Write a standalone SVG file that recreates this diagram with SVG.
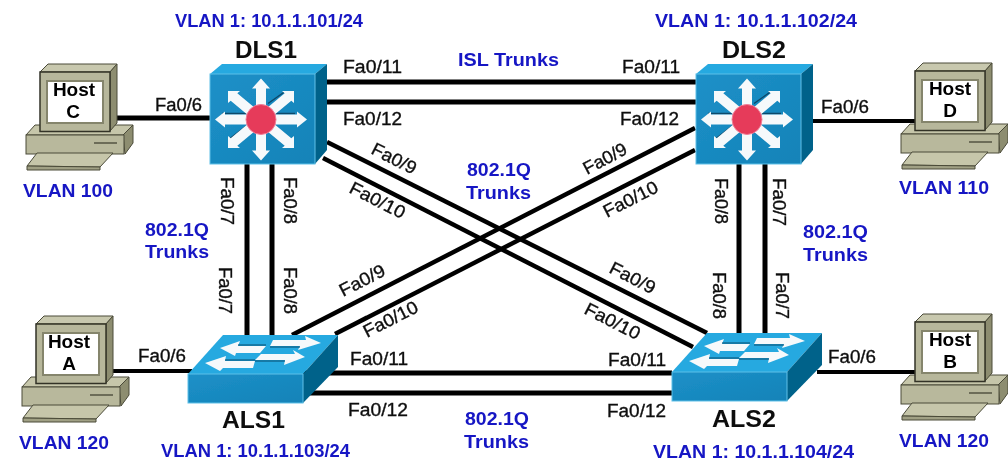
<svg xmlns="http://www.w3.org/2000/svg" width="1008" height="468" viewBox="0 0 1008 468">
<style>
text{font-family:"Liberation Sans",Arial,sans-serif}
.k{font-size:18px;fill:#111;stroke:#111;stroke-width:.35}
.b{font-size:19px;fill:#1616c4;font-weight:bold}
.n{font-size:24px;fill:#111;font-weight:bold}
.h{font-size:19px;fill:#000;font-weight:bold;text-anchor:middle}
.c line{stroke:#000;stroke-width:5;fill:none}
.c .d{stroke-width:4.5}
.c .t{stroke-width:4}
.ms{fill:#f6f9fb}
.pl{stroke:#4a4a38;stroke-width:1}
</style>
<defs>
<filter id="soft" x="0" y="0" width="100%" height="100%"><feGaussianBlur stdDeviation="0.35"/></filter>
<linearGradient id="fr" x1="0" y1="0" x2="1" y2="1"><stop offset="0" stop-color="#1c90c8"/><stop offset="1" stop-color="#1583b8"/></linearGradient>
<polygon id="diag" class="ms" points="-33,-28.5 -21,-28.5 -23.7,-26.3 3.3,-3.8 -3.3,3.8 -30.3,-18.7 -33,-16.5"/>
<polygon id="vert" class="ms" points="-5,0 -5,-31 -9,-31 0,-41 9,-31 5,-31 5,0"/>
<polygon id="horz" class="ms" points="0,-5 -36,-5 -36,-8 -46,0 -36,8 -36,5 0,5"/>
<g id="mls">
<polygon points="0,0 12,-10 117,-10 105,0" fill="#27a9e0"/>
<polygon points="105,0 117,-10 117,76 105,90" fill="#04628a"/>
<rect x="0" y="0" width="105" height="90" fill="url(#fr)" stroke="#5cc0e8" stroke-width="1"/>
<g transform="translate(51,45.5)">
<path d="M7,-16L24,-28M-31,19L-14,6M16,9L32,24M-39,-6H-14M14,-6H34" fill="none" stroke="#0b3a55" stroke-width="1.5" opacity=".8"/>
<use href="#vert"/><use href="#vert" transform="scale(1,-1)"/>
<use href="#horz"/><use href="#horz" transform="scale(-1,1)"/>
<use href="#diag"/><use href="#diag" transform="scale(-1,1)"/><use href="#diag" transform="scale(1,-1)"/><use href="#diag" transform="scale(-1,-1)"/>
<circle r="15" fill="#e63a5a" stroke="#f07f98" stroke-width="1"/>
</g>
</g>
<g id="sw">
<polygon points="0,0 35,-39 150,-39 115,0" fill="#27a9e0"/>
<polygon points="115,0 150,-39 150,-7 115,29" fill="#04628a"/>
<rect x="0" y="0" width="115" height="29" fill="url(#fr)" stroke="#5cc0e8" stroke-width="1"/>
<g class="ms">
<polygon points="85,-34 118,-34 117,-38 133,-31 110,-24 112,-28 82,-28"/>
<polygon points="73,-20 107,-20 105,-24 117,-17 96,-9 97,-14 67,-14"/>
<polygon points="32,-26 52,-33 50,-28 78,-28 72,-21 48,-21 47,-18"/>
<polygon points="17,-11 38,-18 37,-13 67,-13 65,-6 35,-6 32,-3"/>
</g>
<path d="M50,-29H78M37,-14H67M82,-27H112M67,-13H97" fill="none" stroke="#0a4a6c" stroke-width="1"/>
</g>
<g id="pc">
<polygon class="pl" points="26,135 123,135 133,125 35,125" fill="#c6c6aa"/>
<polygon class="pl" points="123,135 133,125 133,143 125,154" fill="#8d8d70"/>
<rect class="pl" x="26" y="135" width="98" height="19" fill="#b8b89c"/>
<path d="M94,143H117" stroke="#3a3a2c" stroke-width="1.2"/>
<polygon class="pl" points="37,153 113,153 100,167 27,166" fill="#c6c6aa"/>
<polygon class="pl" points="27,166 100,167 100,170 27,170" fill="#a0a084"/>
<polygon class="pl" points="40,72 48,64 117,64 110,72" fill="#c8c8ae"/>
<polygon class="pl" points="110,72 117,64 117,123 110,131" fill="#8d8d70"/>
<rect x="40" y="72" width="70" height="59.500" fill="#b7b79b" stroke="#333326" stroke-width="1.500"/>
<rect x="47" y="81" width="56" height="42" fill="#fff" stroke="#85856c" stroke-width="2"/>
</g>
</defs>
<rect width="1008" height="468" fill="#fff"/>
<g filter="url(#soft)">
<g id="connectors" class="c">
<line x1="327" y1="82" x2="696" y2="82"/>
<line x1="327" y1="102" x2="696" y2="102"/>
<line x1="303" y1="373" x2="672" y2="373"/>
<line x1="303" y1="393" x2="672" y2="393"/>
<line x1="247" y1="164" x2="247" y2="336"/>
<line x1="272" y1="164" x2="272" y2="336"/>
<line x1="739" y1="164" x2="739" y2="334"/>
<line x1="765" y1="164" x2="765" y2="334"/>
<line class="d" x1="327" y1="142" x2="707" y2="333"/>
<line class="d" x1="323" y1="158" x2="693" y2="347"/>
<line class="d" x1="695" y1="128" x2="292" y2="335"/>
<line class="d" x1="695" y1="150" x2="335" y2="334"/>
<line x1="117" y1="118" x2="210" y2="118"/>
<line class="t" x1="113" y1="371" x2="192" y2="371"/>
<line class="t" x1="813" y1="121" x2="916" y2="121"/>
<line class="t" x1="817" y1="372" x2="916" y2="372"/>
</g>
<g id="DLS1"><use href="#mls" x="210" y="74"/><text class="n" x="235" y="58" textLength="62" lengthAdjust="spacingAndGlyphs">DLS1</text><text class="b" x="175" y="27" textLength="188" lengthAdjust="spacingAndGlyphs">VLAN 1: 10.1.1.101/24</text></g>
<g id="DLS2"><use href="#mls" x="696" y="74"/><text class="n" x="722" y="58" textLength="64" lengthAdjust="spacingAndGlyphs">DLS2</text><text class="b" x="655" y="27" textLength="202" lengthAdjust="spacingAndGlyphs">VLAN 1: 10.1.1.102/24</text></g>
<g id="ALS1"><use href="#sw" x="188" y="374"/><text class="n" x="222" y="428" textLength="63" lengthAdjust="spacingAndGlyphs">ALS1</text><text class="b" x="161" y="457" textLength="189" lengthAdjust="spacingAndGlyphs">VLAN 1: 10.1.1.103/24</text></g>
<g id="ALS2"><use href="#sw" x="672" y="372"/><text class="n" x="712" y="427" textLength="64" lengthAdjust="spacingAndGlyphs">ALS2</text><text class="b" x="653" y="458" textLength="201" lengthAdjust="spacingAndGlyphs">VLAN 1: 10.1.1.104/24</text></g>
<g id="HostC"><use href="#pc"/><text class="h" x="74" y="96">Host</text><text class="h" x="73" y="118">C</text><text class="b" x="23" y="197" textLength="90" lengthAdjust="spacingAndGlyphs">VLAN 100</text></g>
<g id="HostA"><use href="#pc" x="-4" y="252"/><text class="h" x="69" y="348">Host</text><text class="h" x="69" y="370">A</text><text class="b" x="19" y="449" textLength="90" lengthAdjust="spacingAndGlyphs">VLAN 120</text></g>
<g id="HostD"><use href="#pc" x="875" y="-1"/><text class="h" x="950" y="95">Host</text><text class="h" x="950" y="117">D</text><text class="b" x="899" y="194" textLength="90" lengthAdjust="spacingAndGlyphs">VLAN 110</text></g>
<g id="HostB"><use href="#pc" x="875" y="250"/><text class="h" x="950" y="346">Host</text><text class="h" x="950" y="368">B</text><text class="b" x="899" y="447" textLength="90" lengthAdjust="spacingAndGlyphs">VLAN 120</text></g>
<g id="labels">
<text class="k" x="155" y="111" textLength="47" lengthAdjust="spacingAndGlyphs">Fa0/6</text>
<text class="k" x="138" y="362" textLength="48" lengthAdjust="spacingAndGlyphs">Fa0/6</text>
<text class="k" x="821" y="113" textLength="48" lengthAdjust="spacingAndGlyphs">Fa0/6</text>
<text class="k" x="828" y="363" textLength="48" lengthAdjust="spacingAndGlyphs">Fa0/6</text>
<text class="k" x="343" y="73" textLength="59" lengthAdjust="spacingAndGlyphs">Fa0/11</text>
<text class="k" x="622" y="73" textLength="58" lengthAdjust="spacingAndGlyphs">Fa0/11</text>
<text class="k" x="343" y="125" textLength="59" lengthAdjust="spacingAndGlyphs">Fa0/12</text>
<text class="k" x="620" y="125" textLength="59" lengthAdjust="spacingAndGlyphs">Fa0/12</text>
<text class="k" x="350" y="365" textLength="58" lengthAdjust="spacingAndGlyphs">Fa0/11</text>
<text class="k" x="608" y="366" textLength="58" lengthAdjust="spacingAndGlyphs">Fa0/11</text>
<text class="k" x="348" y="416" textLength="60" lengthAdjust="spacingAndGlyphs">Fa0/12</text>
<text class="k" x="607" y="417" textLength="59" lengthAdjust="spacingAndGlyphs">Fa0/12</text>
<text class="k" transform="translate(370,153) rotate(27)" textLength="48" lengthAdjust="spacingAndGlyphs">Fa0/9</text>
<text class="k" transform="translate(348,192) rotate(27)" textLength="60" lengthAdjust="spacingAndGlyphs">Fa0/10</text>
<text class="k" transform="translate(587,175) rotate(-28)" textLength="47" lengthAdjust="spacingAndGlyphs">Fa0/9</text>
<text class="k" transform="translate(607,218) rotate(-27)" textLength="59" lengthAdjust="spacingAndGlyphs">Fa0/10</text>
<text class="k" transform="translate(343,297) rotate(-27)" textLength="49" lengthAdjust="spacingAndGlyphs">Fa0/9</text>
<text class="k" transform="translate(367,338) rotate(-27)" textLength="59" lengthAdjust="spacingAndGlyphs">Fa0/10</text>
<text class="k" transform="translate(608,272) rotate(27)" textLength="49" lengthAdjust="spacingAndGlyphs">Fa0/9</text>
<text class="k" transform="translate(583,313) rotate(27)" textLength="60" lengthAdjust="spacingAndGlyphs">Fa0/10</text>
<text class="k" transform="translate(221,177) rotate(90)" textLength="48" lengthAdjust="spacingAndGlyphs">Fa0/7</text>
<text class="k" transform="translate(219,267) rotate(90)" textLength="47" lengthAdjust="spacingAndGlyphs">Fa0/7</text>
<text class="k" transform="translate(284,177) rotate(90)" textLength="47" lengthAdjust="spacingAndGlyphs">Fa0/8</text>
<text class="k" transform="translate(284,267) rotate(90)" textLength="47" lengthAdjust="spacingAndGlyphs">Fa0/8</text>
<text class="k" transform="translate(715,178) rotate(90)" textLength="46" lengthAdjust="spacingAndGlyphs">Fa0/8</text>
<text class="k" transform="translate(713,272) rotate(90)" textLength="47" lengthAdjust="spacingAndGlyphs">Fa0/8</text>
<text class="k" transform="translate(773,178) rotate(90)" textLength="48" lengthAdjust="spacingAndGlyphs">Fa0/7</text>
<text class="k" transform="translate(776,272) rotate(90)" textLength="47" lengthAdjust="spacingAndGlyphs">Fa0/7</text>
<text class="b" x="458" y="66" textLength="101" lengthAdjust="spacingAndGlyphs">ISL Trunks</text>
<text class="b" x="467" y="176" textLength="64" lengthAdjust="spacingAndGlyphs">802.1Q</text>
<text class="b" x="466" y="199" textLength="65" lengthAdjust="spacingAndGlyphs">Trunks</text>
<text class="b" x="465" y="425" textLength="64" lengthAdjust="spacingAndGlyphs">802.1Q</text>
<text class="b" x="464" y="448" textLength="65" lengthAdjust="spacingAndGlyphs">Trunks</text>
<text class="b" x="145" y="236" textLength="64" lengthAdjust="spacingAndGlyphs">802.1Q</text>
<text class="b" x="145" y="258" textLength="64" lengthAdjust="spacingAndGlyphs">Trunks</text>
<text class="b" x="803" y="238" textLength="65" lengthAdjust="spacingAndGlyphs">802.1Q</text>
<text class="b" x="803" y="261" textLength="65" lengthAdjust="spacingAndGlyphs">Trunks</text>
</g>
</g>
</svg>
